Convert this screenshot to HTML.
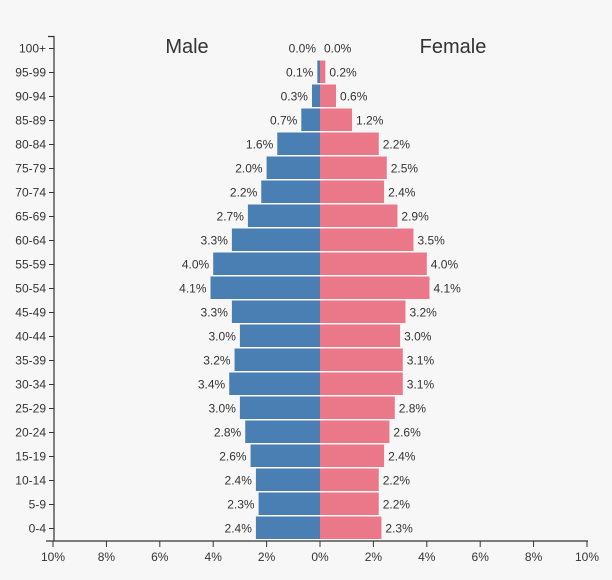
<!DOCTYPE html>
<html><head><meta charset="utf-8">
<style>
html,body{margin:0;width:612px;height:580px;background:#f7f7f7;font-family:"Liberation Sans",sans-serif;overflow:hidden}
svg{display:block}
text{font-family:"Liberation Sans",sans-serif;fill:#333}
</style></head>
<body>
<svg id="chart" width="612" height="580" xmlns="http://www.w3.org/2000/svg">
<rect width="612" height="580" fill="#f7f7f7"/>
<text x="187" y="53" font-size="20" text-anchor="middle">Male</text>
<text x="453" y="53" font-size="20" text-anchor="middle">Female</text>
<g id="bars"></g>
<g id="axes"></g>
</svg>
<script>
const ageGroups = ["100+","95-99","90-94","85-89","80-84","75-79","70-74","65-69","60-64","55-59","50-54","45-49","40-44","35-39","30-34","25-29","20-24","15-19","10-14","5-9","0-4"];
const maleValues = [0.0,0.1,0.3,0.7,1.6,2.0,2.2,2.7,3.3,4.0,4.1,3.3,3.0,3.2,3.4,3.0,2.8,2.6,2.4,2.3,2.4];
const femaleValues = [0.0,0.2,0.6,1.2,2.2,2.5,2.4,2.9,3.5,4.0,4.1,3.2,3.0,3.1,3.1,2.8,2.6,2.4,2.2,2.2,2.3];
const xTicks = [-10,-8,-6,-4,-2,0,2,4,6,8,10];

const NS="http://www.w3.org/2000/svg";
const cx=320, pxPer=26.7, topY=36.5, band=24, axisY=541;
function xScale(v){return cx+v*pxPer;}
function yScale(i){return topY+i*band;}
function mk(tag,attrs,parent){const e=document.createElementNS(NS,tag);for(const k in attrs)e.setAttribute(k,attrs[k]);parent.appendChild(e);return e;}
const bars=document.getElementById('bars'), axes=document.getElementById('axes');

ageGroups.forEach((g,i)=>{
  const y=yScale(i), h=band-1.5, mid=y+band/2+4;
  const m=maleValues[i], f=femaleValues[i];
  const mb=mk('rect',{x:xScale(-m),y:y,width:xScale(0)-xScale(-m),height:h,fill:'#4a7fb3'},bars);
  
  
  const fb=mk('rect',{x:xScale(0),y:y,width:xScale(f)-xScale(0),height:h,fill:'#ea7888'},bars);
  
  
  const ml=mk('text',{x:xScale(-m)-4,y:mid,'font-size':12,'text-anchor':'end'},bars);
  ml.textContent=m.toFixed(1)+'%';
  
  
  const fl=mk('text',{x:xScale(f)+4,y:mid,'font-size':12},bars);
  fl.textContent=f.toFixed(1)+'%';
  
  
  const al=mk('text',{x:46,y:mid,'font-size':12,'text-anchor':'end'},axes);
  al.textContent=g;
  
  
  const t=mk('line',{x1:49,x2:54,y1:y+band/2,y2:y+band/2,stroke:'#333'},axes);
  
  
});
const ya=mk('path',{d:'M48,36.5H54V'+axisY,fill:'none',stroke:'#333','stroke-width':1.2},axes);


const xa=mk('path',{d:'M46,'+axisY+'H588',fill:'none',stroke:'#333','stroke-width':1.2},axes);


xTicks.forEach(v=>{
  const x=xScale(v);
  const tl=mk('line',{x1:x,x2:x,y1:axisY,y2:axisY+6,stroke:'#333'},axes);
  
  
  const tt=mk('text',{x:x,y:axisY+20,'font-size':12,'text-anchor':'middle'},axes);
  tt.textContent=Math.abs(v)+'%';
  
  
});
</script>
</body></html>
